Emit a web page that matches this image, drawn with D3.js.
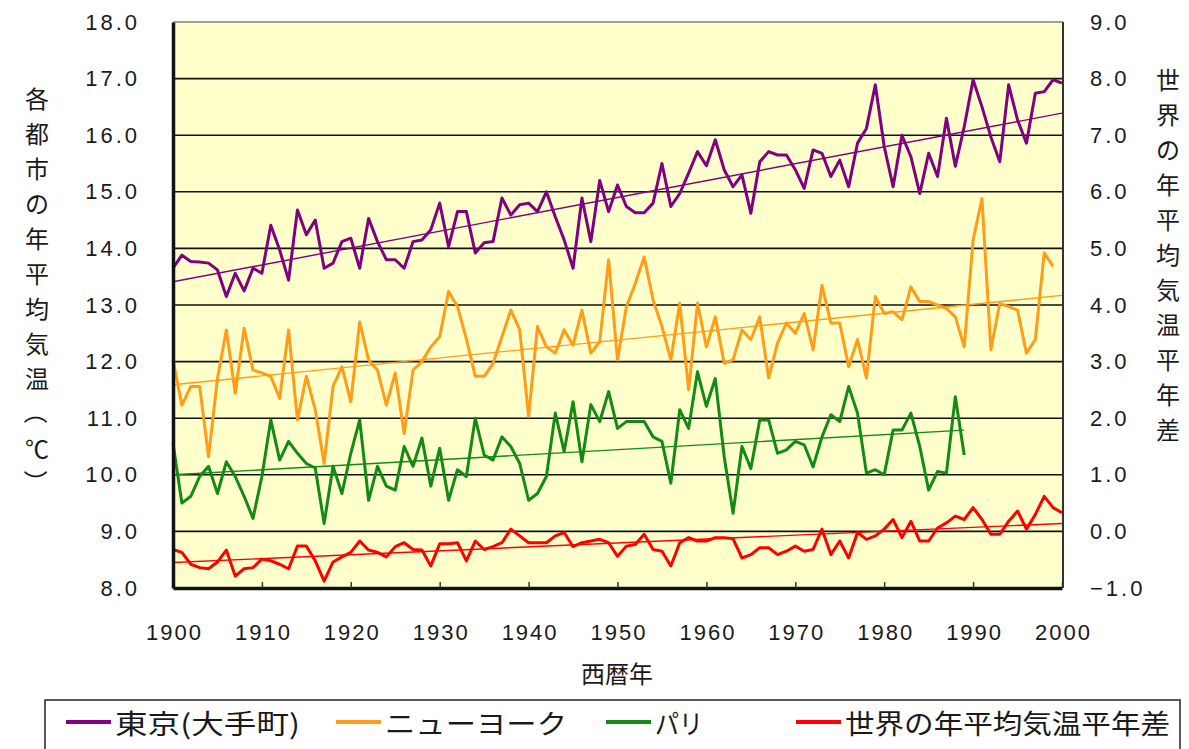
<!DOCTYPE html>
<html>
<head>
<meta charset="utf-8">
<script src="https://cdn.jsdelivr.net/npm/d3@7"></script>
<style>
  body { margin: 0; background: #fff; }
  text { font-family: "Liberation Sans", Arial, sans-serif; fill: #1a1a1a; }
  .jp { font-family: "Noto Sans CJK JP", sans-serif; }
</style>
</head>
<body>
<script>
// years 1900-2000
var years = d3.range(1900, 2001);

// 東京(大手町) annual mean, deg C (1900-2000)
var tokyo = [13.65, 13.88, 13.77, 13.76, 13.74, 13.62, 13.15, 13.56, 13.25, 13.65,
  13.56, 14.41, 13.97, 13.44, 14.68, 14.24, 14.5, 13.65, 13.74, 14.12,
  14.18, 13.65, 14.53, 14.12, 13.8, 13.8, 13.65, 14.12, 14.15, 14.33,
  14.8, 14.03, 14.65, 14.65, 13.92, 14.1, 14.12, 14.89, 14.59, 14.77,
  14.8, 14.65, 15.0, 14.56, 14.15, 13.65, 14.89, 14.12, 15.2, 14.65,
  15.12, 14.74, 14.63, 14.63, 14.8, 15.5, 14.74, 14.97, 15.33, 15.71,
  15.46, 15.92, 15.39, 15.09, 15.3, 14.62, 15.53, 15.71, 15.65, 15.65,
  15.39, 15.06, 15.74, 15.68, 15.27, 15.56, 15.09, 15.86, 16.12, 16.89,
  15.8, 15.09, 16.0, 15.62, 14.97, 15.68, 15.27, 16.3, 15.45, 16.15,
  16.98, 16.5, 15.97, 15.53, 16.89, 16.27, 15.86, 16.74, 16.77, 16.98,
  16.92];

// ニューヨーク (1900-1999)
var newYork = [12.03, 11.23, 11.56, 11.56, 10.32, 11.7, 12.56, 11.44, 12.59, 11.85,
  11.8, 11.74, 11.35, 12.56, 10.97, 11.74, 11.15, 10.2, 11.56, 11.91,
  11.29, 12.7, 12.03, 11.85, 11.23, 11.8, 10.73, 11.85, 12.0, 12.26,
  12.44, 13.24, 12.97, 12.4, 11.74, 11.74, 11.97, 12.44, 12.91, 12.56,
  11.03, 12.62, 12.26, 12.15, 12.56, 12.29, 12.91, 12.15, 12.35, 13.8,
  12.03, 12.97, 13.38, 13.85, 13.09, 12.62, 12.03, 13.03, 11.5, 13.03,
  12.26, 12.79, 11.97, 12.03, 12.56, 12.39, 12.79, 11.71, 12.33, 12.68,
  12.5, 12.85, 12.21, 13.35, 12.68, 12.68, 11.91, 12.39, 11.71, 13.15,
  12.85, 12.88, 12.74, 13.32, 13.06, 13.06, 13.0, 12.94, 12.79, 12.26,
  14.15, 14.88, 12.21, 13.03, 12.97, 12.91, 12.15, 12.39, 13.92, 13.68];

// パリ (1900-1989)
var paris = [10.56, 9.5, 9.62, 9.97, 10.15, 9.67, 10.23, 9.97, 9.62, 9.23,
  9.97, 10.97, 10.26, 10.59, 10.38, 10.2, 10.12, 9.14, 10.15, 9.67,
  10.38, 10.97, 9.55, 10.15, 9.8, 9.73, 10.5, 10.15, 10.65, 9.8,
  10.47, 9.55, 10.09, 9.97, 11.0, 10.35, 10.26, 10.67, 10.5, 10.2,
  9.55, 9.67, 9.97, 11.09, 10.41, 11.29, 10.23, 11.24, 10.94, 11.47,
  10.82, 10.94, 10.94, 10.94, 10.67, 10.59, 9.85, 11.15, 10.82, 11.82,
  11.21, 11.7, 10.32, 9.32, 10.5, 10.11, 10.97, 10.97, 10.38, 10.44,
  10.59, 10.53, 10.14, 10.67, 11.06, 10.94, 11.56, 11.09, 10.03, 10.09,
  10.0, 10.79, 10.79, 11.09, 10.5, 9.73, 10.06, 10.03, 11.38, 10.35];

// 世界の年平均気温平年差, right axis (1900-2000)
var world = [-0.32, -0.37, -0.58, -0.64, -0.66, -0.54, -0.33, -0.79, -0.66, -0.64,
  -0.49, -0.52, -0.58, -0.66, -0.26, -0.26, -0.52, -0.88, -0.54, -0.45,
  -0.37, -0.17, -0.33, -0.37, -0.45, -0.27, -0.2, -0.32, -0.33, -0.61,
  -0.22, -0.22, -0.2, -0.52, -0.17, -0.32, -0.27, -0.2, 0.04, -0.08,
  -0.2, -0.2, -0.2, -0.08, -0.02, -0.27, -0.2, -0.17, -0.14, -0.2,
  -0.44, -0.26, -0.23, -0.05, -0.32, -0.35, -0.61, -0.2, -0.11, -0.17,
  -0.17, -0.11, -0.11, -0.13, -0.47, -0.41, -0.29, -0.29, -0.41, -0.35,
  -0.26, -0.35, -0.32, 0.04, -0.41, -0.17, -0.47, -0.02, -0.14, -0.08,
  0.04, 0.21, -0.11, 0.18, -0.17, -0.17, 0.06, 0.15, 0.27, 0.21,
  0.42, 0.21, -0.05, -0.05, 0.18, 0.36, 0.04, 0.3, 0.62, 0.42,
  0.33];

// linear trend end points [start, end]
var trendTokyo = [13.41, 16.39], trendTokyoYears = [1900, 2000];
var trendNewYork = [11.59, 13.17], trendNewYorkYears = [1900, 2000];
var trendParis = [10.0, 10.79], trendParisYears = [1900, 1989];
var trendWorld = [-0.55, 0.14], trendWorldYears = [1900, 2000];

var xTicks = d3.range(1900, 2001, 10);
var leftTicks = d3.range(8, 18.01, 1);
var rightTicks = d3.range(-1, 9.01, 1);

var leftTitle = ['各', '都', '市', 'の', '年', '平', '均', '気', '温', '（', '℃', '）'];
var rightTitle = ['世', '界', 'の', '年', '平', '均', '気', '温', '平', '年', '差'];
var legendNames = ['東京(大手町)', 'ニューヨーク', 'パリ', '世界の年平均気温平年差'];

var colors = ['#800080', '#ff9c1a', '#138a13', '#ff0000'];

var width = 1189, height = 749;
var pLeft = 173, pRight = 1062, pTop = 22, pBottom = 588;

var svg = d3.select('body').append('svg')
  .attr('width', width)
  .attr('height', height);

var x = d3.scaleLinear().domain([1900, 2000]).range([pLeft, pRight]);
var yL = d3.scaleLinear().domain([8, 18]).range([pBottom, pTop]);
var yR = d3.scaleLinear().domain([-1, 9]).range([pBottom, pTop]);

// plot background
svg.append('rect')
  .attr('x', pLeft).attr('y', pTop)
  .attr('width', pRight - pLeft).attr('height', pBottom - pTop)
  .attr('fill', '#ffffcc');

// grid lines
svg.selectAll('line.grid').data(leftTicks.slice(1, -1)).enter().append('line')
  .attr('class', 'grid')
  .attr('x1', pLeft).attr('x2', pRight)
  .attr('y1', function(d) { return yL(d); })
  .attr('y2', function(d) { return yL(d); })
  .attr('stroke', '#111')
  .attr('stroke-width', 1.6);

// frame
svg.append('line').attr('x1', pLeft).attr('x2', pRight + 1).attr('y1', pTop).attr('y2', pTop)
  .attr('stroke', '#444').attr('stroke-width', 1.2);
svg.append('line').attr('x1', pRight + 1).attr('x2', pRight + 1).attr('y1', pTop).attr('y2', pBottom)
  .attr('stroke', '#333').attr('stroke-width', 2);

// series
var lineL = d3.line()
  .x(function(d, i) { return x(years[i]); })
  .y(function(d) { return yL(d); });
var lineR = d3.line()
  .x(function(d, i) { return x(years[i]); })
  .y(function(d) { return yR(d); });

function trend(vals, yrs, yScale, color) {
  svg.append('path')
    .attr('d', d3.line()
      .x(function(d, i) { return x(yrs[i]); })
      .y(function(d) { return yScale(d); })(vals))
    .attr('fill', 'none')
    .attr('stroke', color)
    .attr('stroke-width', 1.4);
}

var series = [
  {vals: world, line: lineR, color: colors[3]},
  {vals: paris, line: lineL, color: colors[2]},
  {vals: newYork, line: lineL, color: colors[1]},
  {vals: tokyo, line: lineL, color: colors[0]}
];

series.forEach(function(s) {
  svg.append('path')
    .attr('d', s.line(s.vals))
    .attr('fill', 'none')
    .attr('stroke', s.color)
    .attr('stroke-width', 3)
    .attr('stroke-linejoin', 'round');
});

trend(trendWorld, trendWorldYears, yR, colors[3]);
trend(trendParis, trendParisYears, yL, colors[2]);
trend(trendNewYork, trendNewYorkYears, yL, colors[1]);
trend(trendTokyo, trendTokyoYears, yL, colors[0]);

// axes
var xAxis = svg.append('g')
  .attr('transform', 'translate(0,' + pBottom + ')')
  .call(d3.axisBottom(x).tickValues(xTicks).tickFormat(d3.format('d'))
    .tickSizeInner(-6).tickSizeOuter(0).tickPadding(36));
xAxis.select('.domain').attr('stroke', '#111').attr('stroke-width', 3.5);
xAxis.selectAll('.tick line').attr('stroke', '#333').attr('stroke-width', 1.5);
xAxis.selectAll('text').attr('font-size', 22).attr('letter-spacing', 2)
  .attr('dx', 1).attr('fill', '#1a1a1a')
  .style('font-family', '"Liberation Sans", Arial, sans-serif');

var lAxis = svg.append('g')
  .attr('transform', 'translate(' + pLeft + ',0)')
  .call(d3.axisLeft(yL).tickValues(leftTicks).tickFormat(d3.format('.1f'))
    .tickSize(0).tickPadding(33));
lAxis.select('.domain').attr('stroke', '#111').attr('stroke-width', 3.5);
lAxis.selectAll('text').attr('font-size', 22).attr('letter-spacing', 3)
  .attr('fill', '#1a1a1a')
  .style('font-family', '"Liberation Sans", Arial, sans-serif');

var rAxis = svg.append('g')
  .attr('transform', 'translate(' + (pRight + 1) + ',0)')
  .call(d3.axisRight(yR).tickValues(rightTicks).tickFormat(d3.format('.1f'))
    .tickSize(0).tickPadding(27));
rAxis.select('.domain').remove();
rAxis.selectAll('text').attr('font-size', 22).attr('letter-spacing', 3)
  .attr('fill', '#1a1a1a')
  .style('font-family', '"Liberation Sans", Arial, sans-serif');

// vertical titles
function vertical(chars, cx, y0, step) {
  chars.forEach(function(c, i) {
    var cy = y0 + i * step;
    var t = svg.append('text')
      .attr('class', 'jp')
      .attr('x', cx).attr('y', cy)
      .attr('text-anchor', 'middle')
      .attr('dominant-baseline', 'central')
      .attr('font-size', 24)
      .text(c);
    if (c === '（' || c === '）') {
      t.attr('transform', 'rotate(90,' + cx + ',' + cy + ')');
    }
  });
}
vertical(leftTitle, 37, 97, 35);
vertical(rightTitle, 1168, 78, 35);

svg.append('text')
  .attr('class', 'jp')
  .attr('x', 617).attr('y', 672)
  .attr('text-anchor', 'middle')
  .attr('dominant-baseline', 'central')
  .attr('font-size', 24)
  .text('西暦年');

// legend
svg.append('rect')
  .attr('x', 45).attr('y', 700)
  .attr('width', 1135).attr('height', 70)
  .attr('fill', '#fff')
  .attr('stroke', '#222')
  .attr('stroke-width', 1.5);

var legendLineX = [66, 336, 606, 796];
var legendTextW = [185, 182, 48, 325];
legendNames.forEach(function(name, i) {
  svg.append('line')
    .attr('x1', legendLineX[i]).attr('x2', legendLineX[i] + 45)
    .attr('y1', 722).attr('y2', 722)
    .attr('stroke', colors[i])
    .attr('stroke-width', 4);
  svg.append('text')
    .attr('class', 'jp')
    .attr('x', legendLineX[i] + 49).attr('y', 722)
    .attr('dominant-baseline', 'central')
    .attr('font-size', 27)
    .attr('textLength', legendTextW[i])
    .attr('lengthAdjust', 'spacingAndGlyphs')
    .text(name);
});
</script>
</body>
</html>
